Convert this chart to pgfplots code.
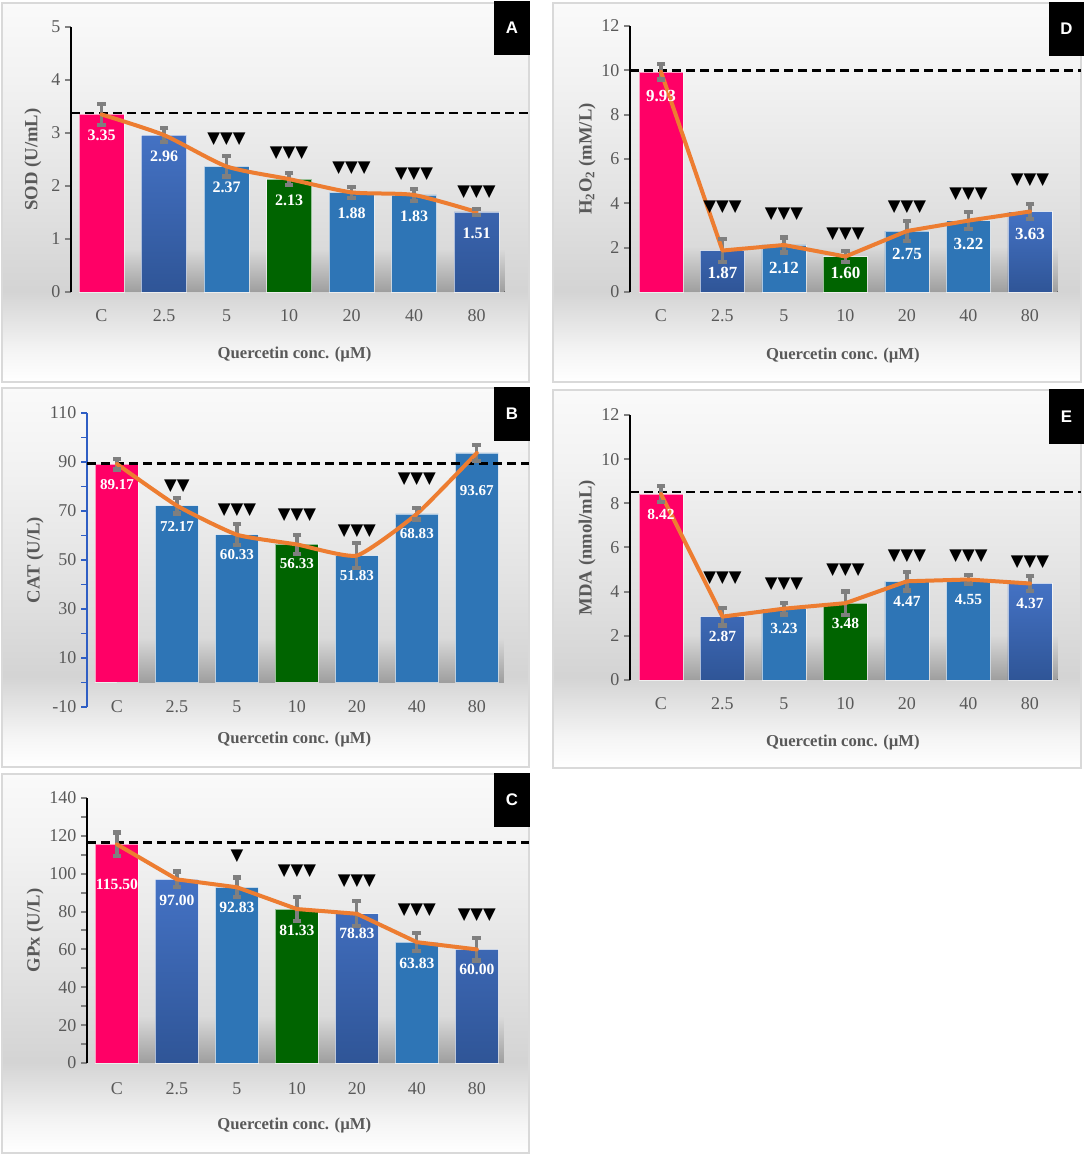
\documentclass[border=0pt]{standalone}
\usepackage{pgfplots}
\pgfplotsset{compat=1.18}
\usepackage{fontspec}
\setmainfont{Liberation Serif}
\newfontfamily\trifont{DejaVu Sans}
\newfontfamily\boxfont{Liberation Sans}
\definecolor{pinkbar}{HTML}{FF0066}
\definecolor{greenbar}{HTML}{006400}
\definecolor{bluebar}{HTML}{2E75B6}
\definecolor{bluetop}{HTML}{4472C4}
\definecolor{bluebot}{HTML}{2F5597}
\definecolor{orangeline}{HTML}{ED7D31}
\definecolor{errgray}{HTML}{7F7F7F}
\definecolor{txtgray}{HTML}{595959}
\definecolor{framegray}{HTML}{D9D9D9}
\definecolor{axisblue}{HTML}{2F5EC4}
\colorlet{bgA}{white}
\colorlet{bgB}{white!96!black}
\colorlet{bgC}{white!83!black}
\colorlet{bgD}{white!89!black}
\colorlet{bgE}{white!95!black}
\colorlet{bgF}{white!98!black}
\colorlet{shtop}{white!85!black}
\colorlet{shbot}{white!62!black}
\pgfdeclareverticalshading{panelbg}{100bp}{color(0bp)=(bgA); color(25bp)=(bgA); color(29bp)=(bgB); color(37bp)=(bgC); color(50bp)=(bgD); color(65bp)=(bgE); color(75bp)=(bgF); color(100bp)=(bgF)}
\def\TTT{▼▼▼}
\def\TT{▼▼}
\def\T{▼}
\pgfplotsset{
  panel/.style={
    scale only axis, clip=false,
    axis y line*=left, axis x line*=bottom,
    x axis line style={draw=none},
    y axis line style={line width=1.8pt},
    xtick={0,...,6}, xticklabels={C,2.5,5,10,20,40,80},
    xtick style={draw=none},
    ytick style={line width=1.5pt},
    tick align=outside,
    major tick length=4.5pt, minor tick length=4.5pt,
    /pgf/number format/assume math mode=true,
    tick label style={font=\fontsize{13.5}{15}\selectfont, text=txtgray},
    xticklabel style={anchor=center},
    xlabel style={font=\bfseries\fontsize{12.5}{14}\selectfont, text=txtgray, anchor=center},
    ylabel style={font=\bfseries\fontsize{14}{16}\selectfont, text=txtgray, anchor=center},
    xlabel={Quercetin conc. (µM)},
  },
  mybar/.style={ybar, bar shift=0pt, draw=white, draw opacity=0.6, line width=0.5pt},
  pinkb/.style={mybar, fill=pinkbar},
  greenb/.style={mybar, fill=greenbar},
  blueb/.style={mybar, fill=bluebar},
  gradb/.style={mybar, top color=bluetop, bottom color=bluebot},
  linep/.style={no markers, draw=orangeline, line width=3pt, line join=round, line cap=round},
  dashp/.style={no markers, black, line width=1.8pt, dash pattern=on 6.5pt off 4pt},
  errp/.style={forget plot, draw=none, mark=none, error bars/.cd, y dir=both, y explicit,
    error mark=none,
    error bar style={draw=errgray, line width=2.4pt}},
  capp/.style={forget plot, only marks, mark=-, mark size=3.3pt, mark options={draw=errgray, line width=3.2pt}},
  labp/.style={only marks, mark=none, point meta=explicit symbolic, nodes near coords,
    every node near coord/.append style={anchor=center, text=white, inner sep=0pt, font=\bfseries\fontsize{#1}{#1}\selectfont}},
  trip/.style={only marks, mark=none, point meta=explicit symbolic, nodes near coords,
    every node near coord/.append style={anchor=center, text=black, inner sep=0pt, font=\trifont\fontsize{12.4}{12.4}\selectfont}},
}
\begin{document}
\begin{tikzpicture}[x=0.75pt,y=0.75pt]
\fill[white] (0,0) rectangle (1084,1156);
% frames (y measured upward from the picture bottom, in px)
\foreach \a/\b/\c/\d in {2/774/529/1153, 553/774/1081/1153, 2/389/529/768, 553/388/1081/766, 2/3/529/382}{
  \shade[shading=panelbg] (\a,\b) rectangle (\c,\d);
  \draw[framegray, line width=1.5pt] (\a,\b) rectangle (\c,\d);
}
% letter boxes
\foreach \a/\b/\c/\d/\L in {494/1101/530/1155/A, 1049/1100/1084/1154/D, 494/715/530/769/B, 1049/712/1084/767/E, 494/329/530/383/C}{
  \fill[black] (\a,\b) rectangle (\c,\d);
  \node[text=white, font=\boxfont\bfseries\fontsize{12.6}{14}\selectfont] at ({(\a+\c)/2},{(\b+\d)/2}) {\L};
}

% ---------------- Panel A ----------------
\begin{axis}[panel, at={(53.25pt,648pt)}, anchor=south west, width=343.5pt, height=198.75pt,
  xmin=-0.488, xmax=6.84, ymin=0, ymax=5, ytick={0,1,2,3,4,5}, bar width=33.75pt,
  ylabel={SOD (U/mL)},
  ylabel style={at={(axis description cs:-0.083,0.5)}},
  xlabel style={at={(axis description cs:0.488,-0.234)}},
  xticklabel style={yshift=-13.5pt}]
\fill[top color=shtop, bottom color=shbot] (axis cs:0,0) rectangle (axis cs:6.45,0.8);
\addplot[pinkb] coordinates {(0,3.35)};
\addplot[gradb] coordinates {(1,2.96) (6,1.51)};
\addplot[blueb] coordinates {(2,2.37) (4,1.88) (5,1.83)};
\addplot[greenb] coordinates {(3,2.13)};
\addplot[dashp] coordinates {(-0.488,3.38) (6.84,3.38)};
\addplot[errp] coordinates {(0,3.35) +- (0,0.2) (1,2.96) +- (0,0.13) (2,2.37) +- (0,0.19) (3,2.13) +- (0,0.11) (4,1.88) +- (0,0.1) (5,1.83) +- (0,0.12) (6,1.51) +- (0,0.06)};
\addplot[capp] coordinates {(0,3.55) (0,3.15) (1,3.09) (1,2.83) (2,2.56) (2,2.18) (3,2.24) (3,2.02) (4,1.98) (4,1.78) (5,1.95) (5,1.71) (6,1.57) (6,1.45)};
\addplot[linep, smooth, tension=0.4] coordinates {(0,3.35) (1,2.96) (2,2.37) (3,2.13) (4,1.88) (5,1.83) (6,1.51)};
\addplot[labp=12] coordinates {(0,2.95) [3.35] (1,2.56) [2.96] (2,1.97) [2.37] (3,1.73) [2.13] (4,1.48) [1.88] (5,1.43) [1.83] (6,1.11) [1.51]};
\addplot[trip] coordinates {(2,2.89) [\TTT] (3,2.62) [\TTT] (4,2.34) [\TTT] (5,2.23) [\TTT] (6,1.89) [\TTT]};
\end{axis}

% ---------------- Panel D ----------------
\begin{axis}[panel, at={(472.5pt,648pt)}, anchor=south west, width=338.25pt, height=199.5pt,
  xmin=-0.504, xmax=6.83, ymin=0, ymax=12, ytick={0,2,...,12}, bar width=33pt,
  ylabel={H\textsubscript{2}O\textsubscript{2} (mM/L)},
  ylabel style={at={(axis description cs:-0.0953,0.5)}},
  xlabel style={at={(axis description cs:0.472,-0.237)}},
  xticklabel style={yshift=-13.5pt}]
\fill[top color=shtop, bottom color=shbot] (axis cs:0,0) rectangle (axis cs:6.45,2.0);
\addplot[pinkb] coordinates {(0,9.93)};
\addplot[gradb] coordinates {(1,1.87) (6,3.63)};
\addplot[blueb] coordinates {(2,2.12) (4,2.75) (5,3.22)};
\addplot[greenb] coordinates {(3,1.60)};
\addplot[dashp] coordinates {(-0.504,10) (6.83,10)};
\addplot[errp] coordinates {(0,9.93) +- (0,0.34) (1,1.87) +- (0,0.52) (2,2.12) +- (0,0.34) (3,1.60) +- (0,0.25) (4,2.75) +- (0,0.45) (5,3.22) +- (0,0.38) (6,3.63) +- (0,0.34)};
\addplot[capp] coordinates {(0,10.27) (0,9.59) (1,2.39) (1,1.35) (2,2.46) (2,1.78) (3,1.85) (3,1.35) (4,3.2) (4,2.3) (5,3.6) (5,2.84) (6,3.97) (6,3.29)};
\addplot[linep] coordinates {(0,9.93) (1,1.87) (2,2.12) (3,1.60) (4,2.75) (5,3.22) (6,3.63)};
\addplot[labp=12.75] coordinates {(0,8.84) [9.93] (1,0.86) [1.87] (2,1.08) [2.12] (3,0.86) [1.60] (4,1.71) [2.75] (5,2.17) [3.22] (6,2.62) [3.63]};
\addplot[trip] coordinates {(1,3.83) [\TTT] (2,3.52) [\TTT] (3,2.62) [\TTT] (4,3.83) [\TTT] (5,4.42) [\TTT] (6,5.05) [\TTT]};
\end{axis}

% ---------------- Panel B ----------------
\begin{axis}[panel, at={(65.25pt,336.75pt)}, anchor=south west, width=331.5pt, height=220.5pt,
  xmin=-0.5, xmax=6.87, ymin=-10, ymax=110, ytick={-10,10,...,110}, minor y tick num=1, bar width=32.25pt,
  y axis line style={draw=axisblue, line width=1.5pt}, ytick style={draw=axisblue, line width=1.2pt},
  ylabel={CAT (U/L)},
  ylabel style={at={(axis description cs:-0.1176,0.5)}},
  xlabel style={at={(axis description cs:0.469,-0.112)}},
  xticklabel style={yshift=4.5pt}]
\fill[top color=shtop, bottom color=shbot] (axis cs:0,0) rectangle (axis cs:6.45,18);
\addplot[pinkb] coordinates {(0,89.17)};
\addplot[blueb] coordinates {(1,72.17) (2,60.33) (4,51.83) (5,68.83) (6,93.67)};
\addplot[greenb] coordinates {(3,56.33)};
\addplot[dashp] coordinates {(-0.5,89.4) (6.87,89.4)};
\addplot[errp] coordinates {(0,89.17) +- (0,2.2) (1,72.17) +- (0,3.2) (2,60.33) +- (0,4.3) (3,56.33) +- (0,3.9) (4,51.83) +- (0,5.1) (5,68.83) +- (0,2.3) (6,93.67) +- (0,3.3)};
\addplot[capp] coordinates {(0,91.37) (0,86.97) (1,75.37) (1,68.97) (2,64.63) (2,56.03) (3,60.23) (3,52.43) (4,56.93) (4,46.73) (5,71.13) (5,66.53) (6,96.97) (6,90.37)};
\addplot[linep, smooth, tension=0.3] coordinates {(0,89.17) (1,72.17) (2,60.33) (3,56.33) (4,51.83) (5,68.83) (6,93.67)};
\addplot[labp=11.3] coordinates {(0,80.6) [89.17] (1,63.6) [72.17] (2,52.0) [60.33] (3,48.4) [56.33] (4,43.5) [51.83] (5,60.6) [68.83] (6,78.2) [93.67]};
\addplot[trip] coordinates {(1,80.2) [\TT] (2,70.4) [\TTT] (3,68.4) [\TTT] (4,61.8) [\TTT] (5,83) [\TTT]};
\end{axis}

% ---------------- Panel E ----------------
\begin{axis}[panel, at={(472.5pt,357pt)}, anchor=south west, width=338.25pt, height=198.75pt,
  xmin=-0.504, xmax=6.83, ymin=0, ymax=12, ytick={0,2,...,12}, bar width=33pt,
  ylabel={MDA (nmol/mL)},
  ylabel style={at={(axis description cs:-0.0953,0.5)}},
  xlabel style={at={(axis description cs:0.472,-0.234)}},
  xticklabel style={yshift=-13.5pt}]
\fill[top color=shtop, bottom color=shbot] (axis cs:0,0) rectangle (axis cs:6.45,2.0);
\addplot[pinkb] coordinates {(0,8.42)};
\addplot[gradb] coordinates {(1,2.87) (6,4.37)};
\addplot[blueb] coordinates {(2,3.23) (4,4.47) (5,4.55)};
\addplot[greenb] coordinates {(3,3.48)};
\addplot[dashp] coordinates {(-0.504,8.51) (6.83,8.51)};
\addplot[errp] coordinates {(0,8.42) +- (0,0.36) (1,2.87) +- (0,0.4) (2,3.23) +- (0,0.27) (3,3.48) +- (0,0.53) (4,4.47) +- (0,0.42) (5,4.55) +- (0,0.19) (6,4.37) +- (0,0.34)};
\addplot[capp] coordinates {(0,8.78) (0,8.06) (1,3.27) (1,2.47) (2,3.5) (2,2.96) (3,4.01) (3,2.95) (4,4.89) (4,4.05) (5,4.74) (5,4.36) (6,4.71) (6,4.03)};
\addplot[linep] coordinates {(0,8.42) (1,2.87) (2,3.23) (3,3.48) (4,4.47) (5,4.55) (6,4.37)};
\addplot[labp=11.6] coordinates {(0,7.5) [8.42] (1,1.95) [2.87] (2,2.32) [3.23] (3,2.55) [3.48] (4,3.55) [4.47] (5,3.64) [4.55] (6,3.45) [4.37]};
\addplot[trip] coordinates {(1,4.62) [\TTT] (2,4.35) [\TTT] (3,4.97) [\TTT] (4,5.6) [\TTT] (5,5.6) [\TTT] (6,5.33) [\TTT]};
\end{axis}

% ---------------- Panel C ----------------
\begin{axis}[panel, at={(65.25pt,69.75pt)}, anchor=south west, width=331.5pt, height=198.75pt,
  xmin=-0.5, xmax=6.87, ymin=0, ymax=140, ytick={0,20,...,140}, minor y tick num=1, bar width=32.25pt,
  ylabel={GPx (U/L)},
  ylabel style={at={(axis description cs:-0.1176,0.5)}},
  xlabel style={at={(axis description cs:0.469,-0.237)}},
  xticklabel style={yshift=-14.5pt}]
\fill[top color=shtop, bottom color=shbot] (axis cs:0,0) rectangle (axis cs:6.45,24);
\addplot[pinkb] coordinates {(0,115.50)};
\addplot[gradb] coordinates {(1,97.00) (4,78.83) (6,60.00)};
\addplot[blueb] coordinates {(2,92.83) (5,63.83)};
\addplot[greenb] coordinates {(3,81.33)};
\addplot[dashp] coordinates {(-0.5,116.5) (6.87,116.5)};
\addplot[errp] coordinates {(0,115.50) +- (0,6.3) (1,97.00) +- (0,4.1) (2,92.83) +- (0,5.2) (3,81.33) +- (0,6.3) (4,78.83) +- (0,6.6) (5,63.83) +- (0,4.7) (6,60.00) +- (0,5.9)};
\addplot[capp] coordinates {(0,121.8) (0,109.2) (1,101.1) (1,92.9) (2,98.03) (2,87.63) (3,87.63) (3,75.03) (4,85.43) (4,72.23) (5,68.53) (5,59.13) (6,65.9) (6,54.1)};
\addplot[linep] coordinates {(0,115.50) (1,97.00) (2,92.83) (3,81.33) (4,78.83) (5,63.83) (6,60.00)};
\addplot[labp=11.7] coordinates {(0,94.2) [115.50] (1,86.1) [97.00] (2,82.1) [92.83] (3,70.3) [81.33] (4,68.3) [78.83] (5,52.5) [63.83] (6,49.2) [60.00]};
\addplot[trip] coordinates {(2,109.5) [\T] (3,101.2) [\TTT] (4,96.3) [\TTT] (5,80.6) [\TTT] (6,78.3) [\TTT]};
\end{axis}

\pgfresetboundingbox
\path[use as bounding box] (0,0) rectangle (1084,1156);
\end{tikzpicture}
\end{document}
